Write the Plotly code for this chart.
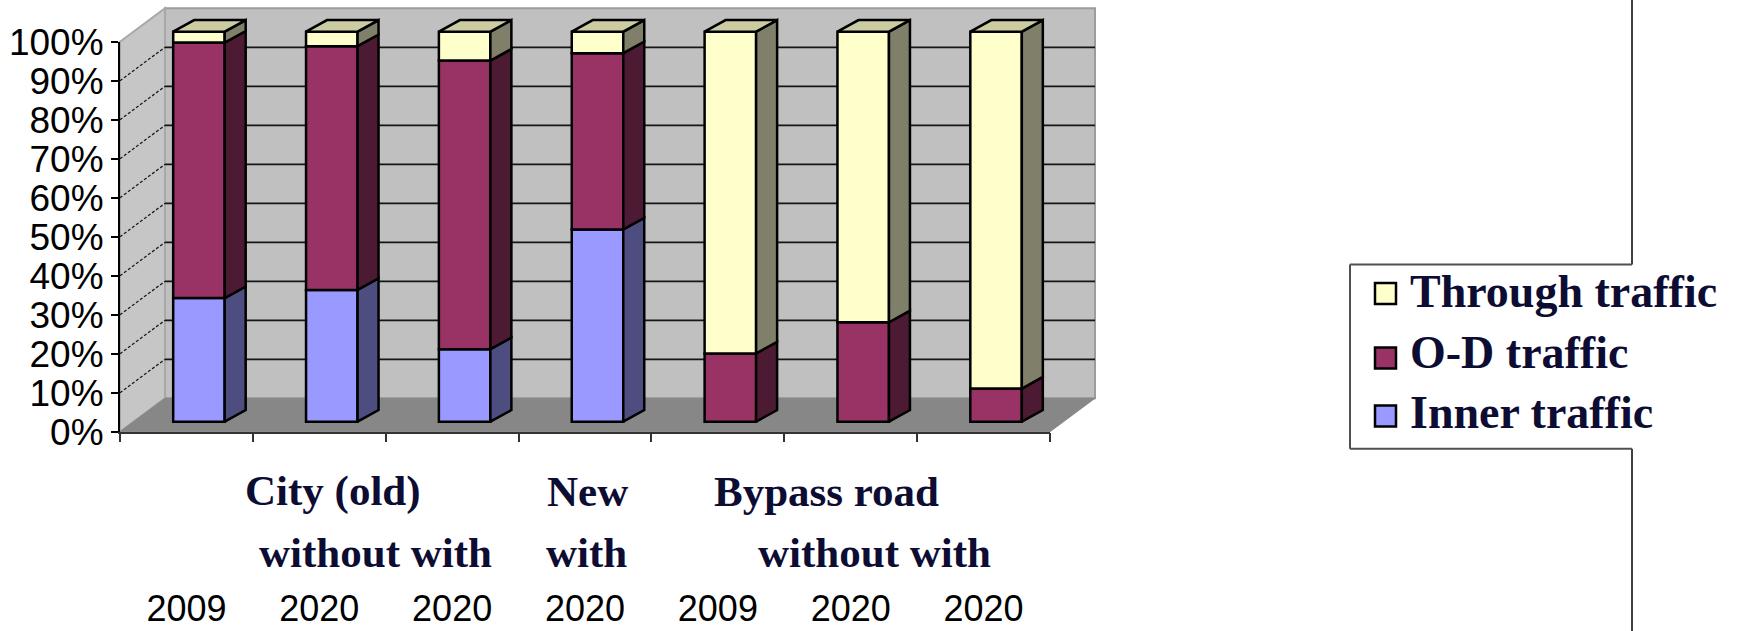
import plotly.graph_objects as go

# ---- data -------------------------------------------------------------
years = ["2009", "2020", "2020", "2020", "2009", "2020", "2020"]
inner_traffic = [31.7, 33.8, 18.6, 49.3, 0.0, 0.0, 0.0]
od_traffic = [65.5, 62.5, 74.0, 45.2, 17.5, 25.5, 8.5]
through_traffic = [2.8, 3.7, 7.4, 5.5, 82.5, 74.5, 91.5]
y_tick_values = [0, 10, 20, 30, 40, 50, 60, 70, 80, 90, 100]
y_tick_labels = ["0%", "10%", "20%", "30%", "40%", "50%", "60%", "70%", "80%", "90%", "100%"]

group_labels = [("City (old)", 1.10, 491), ("New", 3.02, 491), ("Bypass road", 4.82, 491),
                ("without with", 1.42, 552), ("with", 3.01, 552), ("without with", 5.18, 552)]

series = [
    # name, values, front, side, top
    ("Inner traffic", inner_traffic, "#9999FF", "#4D4D80", "#7A7AB8"),
    ("O-D traffic", od_traffic, "#993366", "#4D1A33", "#7A2952"),
    ("Through traffic", through_traffic, "#FFFFCC", "#80806A", "#CCCCA3"),
]

# ---- page geometry (pixels) --------------------------------------------
W, H = 1750, 631
AX_LEFT, AX_RIGHT = 120.0, 1050.0
AX_TOP, AX_BOTTOM = 41.7, 431.7
N = len(years)
CAT_PX = (AX_RIGHT - AX_LEFT) / N
PCT_PX = (AX_BOTTOM - AX_TOP) / 100.0


def dx(p):
    return p / CAT_PX


def dy(p):
    return p / PCT_PX


def paper_x(p):
    return p / W


def paper_y(p):
    return 1 - p / H


# depth of the chart box and of each column
WALL_DX, WALL_DY = dx(45), dy(33.4)
BAR_SHIFT_X, BAR_SHIFT_Y = dx(12.5), dy(10)
BAR_W = dx(51.5)
BAR_DX, BAR_DY = dx(21), dy(11.6)

# full-page drawing axes
X_RANGE = [-0.5 - AX_LEFT / CAT_PX, -0.5 + (W - AX_LEFT) / CAT_PX]
Y_RANGE = [-(H - AX_BOTTOM) / PCT_PX, 100 + AX_TOP / PCT_PX]

fig = go.Figure()

# ---- columns: front faces ----------------------------------------------
xs = [i + BAR_SHIFT_X for i in range(N)]
running = [BAR_SHIFT_Y] * N
bases = []
for name, vals, front, side, top in series:
    bases.append(list(running))
    fig.add_trace(go.Bar(
        x=xs, y=vals, base=list(running), width=BAR_W, name=name,
        marker=dict(color=front, line=dict(color="black", width=2.5)),
        showlegend=False, hoverinfo="skip",
    ))
    running = [r + v for r, v in zip(running, vals)]

# ---- columns: side faces ------------------------------------------------
for (name, vals, front, side, top), base in zip(series, bases):
    px_, py_ = [], []
    for i in range(N):
        if vals[i] <= 0:
            continue
        xr = xs[i] + BAR_W / 2
        b0, b1 = base[i], base[i] + vals[i]
        px_ += [xr, xr + BAR_DX, xr + BAR_DX, xr, xr, None]
        py_ += [b0, b0 + BAR_DY, b1 + BAR_DY, b1, b0, None]
    fig.add_trace(go.Scatter(
        x=px_, y=py_, mode="lines", fill="toself", fillcolor=side,
        line=dict(color="black", width=2.5), showlegend=False, hoverinfo="skip",
    ))

# ---- columns: top faces -------------------------------------------------
tx, ty = [], []
for i in range(N):
    t = running[i]
    xl, xr = xs[i] - BAR_W / 2, xs[i] + BAR_W / 2
    tx += [xl, xl + BAR_DX, xr + BAR_DX, xr, xl, None]
    ty += [t, t + BAR_DY, t + BAR_DY, t, t, None]
fig.add_trace(go.Scatter(
    x=tx, y=ty, mode="lines", fill="toself", fillcolor=series[-1][4],
    line=dict(color="black", width=2.5), showlegend=False, hoverinfo="skip",
))

# placeholders so the front axes are laid out
fig.add_trace(go.Scatter(x=[None], y=[None], xaxis="x2", yaxis="y2", showlegend=False, hoverinfo="skip"))
fig.add_trace(go.Scatter(x=[None], y=[None], xaxis="x3", yaxis="y2", showlegend=False, hoverinfo="skip"))

# ---- chart box: floor, side wall, back wall, grid -------------------------
x0, x1 = -0.5, N - 0.5
shapes = []


def poly(pts):
    return "M " + " L ".join(f"{a},{b}" for a, b in pts) + " Z"


shapes.append(dict(type="path", xref="x", yref="y", layer="below",
                   path=poly([(x0 + WALL_DX, WALL_DY), (x1 + WALL_DX, WALL_DY),
                              (x1 + WALL_DX, 100 + WALL_DY), (x0 + WALL_DX, 100 + WALL_DY)]),
                   fillcolor="#C0C0C0", line=dict(color="#9C9C9C", width=2)))
shapes.append(dict(type="path", xref="x", yref="y", layer="below",
                   path=poly([(x0, 0), (x0, 100), (x0 + WALL_DX, 100 + WALL_DY), (x0 + WALL_DX, WALL_DY)]),
                   fillcolor="#C6C6C6", line=dict(color="#A8A8A8", width=2)))
shapes.append(dict(type="path", xref="x", yref="y", layer="below",
                   path=poly([(x0, 0), (x1, 0), (x1 + WALL_DX, WALL_DY), (x0 + WALL_DX, WALL_DY)]),
                   fillcolor="#878787", line=dict(color="#878787", width=1)))
for v in y_tick_values[1:-1]:
    shapes.append(dict(type="line", xref="x", yref="y", layer="below",
                       x0=x0 + WALL_DX, x1=x1 + WALL_DX, y0=v + WALL_DY, y1=v + WALL_DY,
                       line=dict(color="#151515", width=1.8)))
    shapes.append(dict(type="line", xref="x", yref="y", layer="below",
                       x0=x0, x1=x0 + WALL_DX, y0=v, y1=v + WALL_DY,
                       line=dict(color="#1A1A1A", width=1.3, dash="3px,2px")))

# ---- legend ---------------------------------------------------------------
LEG_L, LEG_R, LEG_T, LEG_B = 1350, 1632, 264.5, 448.7
shapes.append(dict(type="line", xref="paper", yref="paper", layer="above",
                   x0=paper_x(LEG_R), x1=paper_x(LEG_R), y0=0, y1=1,
                   line=dict(color="#404040", width=2)))
shapes.append(dict(type="rect", xref="paper", yref="paper", layer="above",
                   x0=paper_x(LEG_L), x1=1, y0=paper_y(LEG_B), y1=paper_y(LEG_T),
                   fillcolor="white", line=dict(width=0)))
for (a, b, c, d) in [(LEG_L, LEG_T, LEG_L, LEG_B), (LEG_L, LEG_T, LEG_R, LEG_T), (LEG_L, LEG_B, LEG_R, LEG_B)]:
    shapes.append(dict(type="line", xref="paper", yref="paper", layer="above",
                       x0=paper_x(a), y0=paper_y(b), x1=paper_x(c), y1=paper_y(d),
                       line=dict(color="#505050", width=2)))

annotations = []
legend_rows = [(series[2], 293.5, 291), (series[1], 358, 352), (series[0], 416, 412)]
for (name, vals, front, side, top), sy, ty_ in legend_rows:
    shapes.append(dict(type="rect", xref="paper", yref="paper", layer="above",
                       x0=paper_x(1375), x1=paper_x(1396), y0=paper_y(sy + 10.5), y1=paper_y(sy - 10.5),
                       fillcolor=front, line=dict(color="black", width=2.5)))
    annotations.append(dict(xref="paper", yref="paper", x=paper_x(1408), y=paper_y(ty_),
                            xanchor="left", yanchor="middle", showarrow=False,
                            text=f"<b>{name}</b>",
                            font=dict(family="Liberation Serif", size=46, color="#0D0D33")))

for text, gx, gy in group_labels:
    annotations.append(dict(xref="x2", yref="paper", x=gx, y=paper_y(gy),
                            xanchor="center", yanchor="middle", showarrow=False,
                            text=f"<b>{text}</b>",
                            font=dict(family="Liberation Serif", size=43, color="#0D0D33")))

fig.update_layout(
    width=W, height=H,
    margin=dict(l=0, r=0, t=0, b=0, autoexpand=False),
    paper_bgcolor="white", plot_bgcolor="rgba(0,0,0,0)",
    barmode="overlay", showlegend=False,
    xaxis=dict(domain=[0, 1], range=X_RANGE, visible=False, fixedrange=True),
    yaxis=dict(domain=[0, 1], range=Y_RANGE, visible=False, fixedrange=True),
    xaxis2=dict(domain=[paper_x(AX_LEFT), paper_x(AX_RIGHT)], range=[x0, x1], anchor="y2",
                tickmode="array", tickvals=[x0 + k for k in range(N + 1)],
                ticks="outside", ticklen=9, tickwidth=1.5, tickcolor="#333333",
                showticklabels=False, showline=True, linecolor="#333333", linewidth=1.5,
                showgrid=False, zeroline=False, fixedrange=True),
    xaxis3=dict(overlaying="x2", anchor="y2", range=[x0, x1],
                tickmode="array", tickvals=list(range(N)), ticktext=years,
                ticks="", showline=False, showgrid=False, zeroline=False,
                ticklabelstandoff=152,
                tickfont=dict(family="Liberation Sans Narrow, Liberation Sans", size=36, color="black"),
                fixedrange=True),
    yaxis2=dict(domain=[paper_y(AX_BOTTOM), paper_y(AX_TOP)], range=[0, 100], anchor="x2",
                tickmode="array", tickvals=y_tick_values, ticktext=y_tick_labels,
                ticks="outside", ticklen=7, tickwidth=2, tickcolor="black",
                showline=True, linecolor="black", linewidth=2,
                showgrid=False, zeroline=False,
                tickfont=dict(family="Liberation Sans", size=37, color="black"),
                fixedrange=True),
    shapes=shapes,
    annotations=annotations,
)

fig.write_html("out.html")
